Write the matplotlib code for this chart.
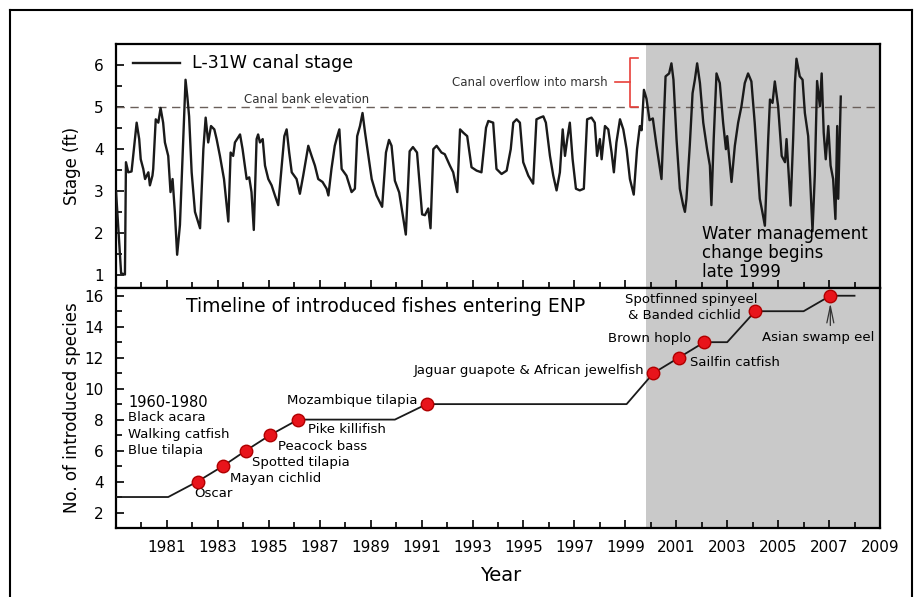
import matplotlib
matplotlib.use("Agg")
import matplotlib.pyplot as plt
from matplotlib.lines import Line2D

# ---- data ----
stage_years = [1979.0, 1979.2, 1979.35, 1979.39, 1979.48, 1979.61, 1979.81, 1979.91, 1979.97,
               1980.07, 1980.14, 1980.27, 1980.33, 1980.43, 1980.46, 1980.56, 1980.66, 1980.75,
               1980.85, 1980.92, 1981.05, 1981.14, 1981.22, 1981.31, 1981.40, 1981.51, 1981.64,
               1981.73, 1981.80, 1981.87, 1981.97, 1982.10, 1982.30, 1982.43, 1982.52, 1982.62,
               1982.73, 1982.86, 1982.95, 1983.08, 1983.24, 1983.41, 1983.50, 1983.60, 1983.67,
               1983.87, 1983.97, 1984.13, 1984.23, 1984.32, 1984.41, 1984.52, 1984.58, 1984.65,
               1984.76, 1984.85, 1984.98, 1985.11, 1985.24, 1985.37, 1985.51, 1985.61, 1985.70,
               1985.80, 1985.90, 1986.09, 1986.22, 1986.35, 1986.55, 1986.68, 1986.81, 1986.94,
               1987.11, 1987.27, 1987.34, 1987.46, 1987.59, 1987.69, 1987.77, 1987.86, 1988.05,
               1988.25, 1988.38, 1988.47, 1988.58, 1988.68, 1988.78, 1988.91, 1989.04, 1989.23,
               1989.45, 1989.52, 1989.60, 1989.72, 1989.82, 1989.95, 1990.12, 1990.38, 1990.53,
               1990.66, 1990.82, 1991.02, 1991.13, 1991.26, 1991.35, 1991.46, 1991.59, 1991.78,
               1991.91, 1992.11, 1992.24, 1992.40, 1992.51, 1992.64, 1992.79, 1992.96, 1993.16,
               1993.35, 1993.53, 1993.62, 1993.81, 1993.94, 1994.14, 1994.34, 1994.50, 1994.60,
               1994.73, 1994.86, 1994.99, 1995.19, 1995.38, 1995.51, 1995.65, 1995.78, 1995.88,
               1996.04, 1996.17, 1996.30, 1996.43, 1996.54, 1996.63, 1996.72, 1996.82, 1996.93,
               1997.06, 1997.21, 1997.37, 1997.50, 1997.67, 1997.80, 1997.89, 1998.00, 1998.07,
               1998.20, 1998.33, 1998.46, 1998.55, 1998.65, 1998.79, 1998.92, 1999.05, 1999.18,
               1999.33, 1999.46, 1999.57, 1999.64, 1999.73, 1999.83, 1999.95, 2000.08, 2000.22,
               2000.42, 2000.58, 2000.72, 2000.81, 2000.89, 2001.01, 2001.14, 2001.27, 2001.34,
               2001.40, 2001.53, 2001.64, 2001.73, 2001.82, 2001.93, 2002.06, 2002.21, 2002.32,
               2002.38, 2002.47, 2002.58, 2002.71, 2002.84, 2002.95, 2003.00, 2003.17, 2003.30,
               2003.43, 2003.56, 2003.69, 2003.82, 2003.95, 2004.08, 2004.28, 2004.38, 2004.48,
               2004.61, 2004.68, 2004.78, 2004.87, 2005.00, 2005.14, 2005.27, 2005.33, 2005.49,
               2005.59, 2005.66, 2005.72, 2005.85, 2005.96, 2006.05, 2006.18, 2006.35, 2006.44,
               2006.53, 2006.64, 2006.71, 2006.79, 2006.87, 2006.97, 2007.06, 2007.16, 2007.25,
               2007.32, 2007.36, 2007.46]
stage_ft = [3.0, 1.05, 1.02, 3.69, 3.45, 3.47, 4.63, 4.24, 3.76,
            3.53, 3.29, 3.45, 3.14, 3.37, 3.53, 4.71, 4.63, 4.98,
            4.63, 4.16, 3.84, 2.98, 3.29, 2.51, 1.49, 2.20, 4.24,
            5.65, 5.25, 4.78, 3.45, 2.51, 2.12, 4.0, 4.75, 4.16,
            4.55, 4.47, 4.24, 3.84, 3.29, 2.28, 3.92, 3.84, 4.16,
            4.35, 4.0, 3.29, 3.33, 2.98, 2.08, 4.24, 4.35, 4.16,
            4.24, 3.61, 3.29, 3.14, 2.90, 2.67, 3.61, 4.31, 4.47,
            3.92, 3.45, 3.29, 2.94, 3.37, 4.08, 3.84, 3.61, 3.29,
            3.22, 3.06, 2.90, 3.53, 4.08, 4.31, 4.47, 3.53, 3.37,
            2.98, 3.06, 4.31, 4.55, 4.86, 4.39, 3.84, 3.29, 2.90,
            2.63, 3.22, 3.92, 4.22, 4.08, 3.25, 2.97, 1.97, 3.95,
            4.05, 3.92, 2.45, 2.43, 2.59, 2.12, 4.0, 4.08, 3.92,
            3.88, 3.61, 3.45, 2.98, 4.47, 4.39, 4.31, 3.57, 3.49,
            3.45, 4.51, 4.67, 4.63, 3.53, 3.41, 3.49, 4.0, 4.63,
            4.71, 4.63, 3.69, 3.37, 3.18, 4.71, 4.75, 4.78, 4.63,
            3.84, 3.37, 3.02, 3.45, 4.47, 3.84, 4.24, 4.63, 3.76,
            3.06, 3.02, 3.06, 4.71, 4.75, 4.63, 3.84, 4.24, 3.76,
            4.55, 4.47, 3.92, 3.45, 4.16, 4.71, 4.47, 4.0, 3.29,
            2.92, 4.0, 4.55, 4.45, 5.41, 5.2, 4.69, 4.73, 4.1,
            3.29, 5.73, 5.80, 6.04, 5.65, 4.24, 3.06, 2.67, 2.51,
            2.82, 4.08, 5.33, 5.65, 6.04, 5.57, 4.63, 4.0, 3.61,
            2.67, 4.24, 5.80, 5.57, 4.63, 4.0, 4.31, 3.22, 4.08,
            4.63, 5.02, 5.57, 5.80, 5.61, 4.63, 2.82, 2.51, 2.18,
            4.24, 5.18, 5.10, 5.61, 5.02, 3.84, 3.69, 4.24, 2.66,
            4.24, 5.57, 6.15, 5.73, 5.65, 4.86, 4.31, 2.05, 3.37,
            5.62, 5.02, 5.80, 4.39, 3.76, 4.55, 3.61, 3.29, 2.34,
            4.55, 2.82, 5.25]

timeline_years = [1979, 1981.05, 1982.2, 1983.2, 1984.1, 1985.05, 1986.15, 1989.95, 1991.2,
                  1999.05, 2000.1, 2001.1, 2002.1, 2003.0, 2004.1, 2006.0, 2007.05, 2008.0]
timeline_counts = [3, 3, 4, 5, 6, 7, 8, 8, 9, 9, 11, 12, 13, 13, 15, 15, 16, 16]

fish_years = [1982.2, 1983.2, 1984.1, 1985.05, 1986.15, 1991.2, 2000.1, 2001.1, 2002.1, 2004.1, 2007.05]
fish_counts = [4, 5, 6, 7, 8, 9, 11, 12, 13, 15, 16]

early_species = ["1960-1980", "Black acara", "Walking catfish", "Blue tilapia"]

bank_elevation = 5.0
change_year = 1999.8

# ---- figure ----
fig = plt.figure(figsize=(9.23, 5.97), dpi=100)
ax1 = fig.add_axes([0.1257, 0.5176, 0.8277, 0.4087])
ax2 = fig.add_axes([0.1257, 0.1156, 0.8277, 0.4020])

shade = '#c9c9c9'
for ax in (ax1, ax2):
    ax.axvspan(change_year, 2009, color=shade, lw=0, zorder=0)
    ax.set_xlim(1979, 2009)
    ax.set_xticks(range(1981, 2010, 2))
    ax.set_xticks(range(1980, 2009, 2), minor=True)
    ax.tick_params(which='both', direction='in', top=False, right=False, labelsize=11, pad=9)
    ax.tick_params(which='major', length=6, width=1.2)
    ax.tick_params(which='minor', length=4, width=1.2)
    for s in ax.spines.values():
        s.set_linewidth(1.6)

# top panel: canal stage
ax1.plot(stage_years, stage_ft, color='#1a1a1a', lw=1.7, zorder=3)
ax1.axhline(bank_elevation, color='#6a5f5a', lw=1.0, ls=(0, (6, 4)), zorder=2)
ax1.set_ylim(0.7, 6.5)
ax1.set_yticks(range(1, 7))
ax1.set_yticks([1.5, 2.5, 3.5, 4.5, 5.5, 6.5], minor=True)
ax1.tick_params(axis='x', labelbottom=False)
ax1.set_ylabel('Stage (ft)', fontsize=12)
ax1.yaxis.set_label_coords(-0.046, 0.5)

ax1.plot([1979.67, 1981.51], [6.04, 6.04], color='#1a1a1a', lw=1.7)
ax1.text(1981.98, 6.04, 'L-31W canal stage', fontsize=12.5, va='center', ha='left')
ax1.text(1986.5, 5.18, 'Canal bank elevation', fontsize=8.5, va='center', ha='center', color='#333333')

# red bracket for overflow
red = '#e8403a'
ax1.plot([1999.49, 1999.18, 1999.18, 1999.49], [6.16, 6.16, 5.0, 5.0], color=red, lw=1.2)
ax1.plot([1998.59, 1999.18], [5.59, 5.59], color=red, lw=1.2)
ax1.text(1998.3, 5.59, 'Canal overflow into marsh', fontsize=8.5, va='center', ha='right', color='#333333')

ax1.text(2002.0, 1.53, 'Water management\nchange begins\nlate 1999', fontsize=12,
         va='center', ha='left', linespacing=1.05)

# bottom panel: fish timeline
ax2.plot(timeline_years, timeline_counts, color='#1a1a1a', lw=1.3, zorder=3)
ax2.plot(fish_years, fish_counts, 'o', color='#e8141b', mec='#b00000', ms=9, zorder=4)
ax2.set_ylim(1, 16.5)
ax2.set_yticks(range(2, 17, 2))
ax2.set_yticks(range(3, 17, 2), minor=True)
ax2.set_ylabel('No. of introduced species', fontsize=12)
ax2.yaxis.set_label_coords(-0.046, 0.5)
ax2.set_xlabel('Year', fontsize=14)
ax2.xaxis.set_label_coords(0.504, -0.16)

ax2.text(1989.59, 15.31, 'Timeline of introduced fishes entering ENP', fontsize=13.5,
         ha='center', va='center')

ax2.text(1979.48, 9.12, early_species[0], fontsize=10.5, ha='left', va='center')
for lbl, yy in zip(early_species[1:], [8.11, 7.03, 6.0]):
    ax2.text(1979.48, yy, lbl, fontsize=9.5, ha='left', va='center')

fs = 9.5
ax2.text(1982.06, 3.21, 'Oscar', fontsize=fs, ha='left', va='center')
ax2.text(1983.48, 4.17, 'Mayan cichlid', fontsize=fs, ha='left', va='center')
ax2.text(1984.33, 5.2, 'Spotted tilapia', fontsize=fs, ha='left', va='center')
ax2.text(1985.37, 6.28, 'Peacock bass', fontsize=fs, ha='left', va='center')
ax2.text(1986.55, 7.35, 'Pike killifish', fontsize=fs, ha='left', va='center')
ax2.text(1985.73, 9.25, 'Mozambique tilapia', fontsize=fs, ha='left', va='center')
ax2.text(1990.67, 11.18, 'Jaguar guapote & African jewelfish', fontsize=fs, ha='left', va='center')
ax2.text(1998.31, 13.23, 'Brown hoplo', fontsize=fs, ha='left', va='center')
ax2.text(2001.54, 11.66, 'Sailfin catfish', fontsize=fs, ha='left', va='center')
ax2.text(1998.98, 15.74, 'Spotfinned spinyeel', fontsize=fs, ha='left', va='center')
ax2.text(1999.1, 14.73, '& Banded cichlid', fontsize=fs, ha='left', va='center')
ax2.text(2004.35, 13.31, 'Asian swamp eel', fontsize=fs, ha='left', va='center')
ax2.annotate('', xy=(2007.05, 15.7), xytext=(2007.05, 13.9),
             arrowprops=dict(arrowstyle='->,head_length=1.2,head_width=0.25', color='#333333', lw=0.9))

# outer frame
for xs, ys in (([0.0108, 0.0108], [0.0, 0.983]), ([0.0108, 0.988], [0.983, 0.983]),
               ([0.988, 0.988], [0.983, 0.0])):
    fig.add_artist(Line2D(xs, ys, color='black', lw=1.5, transform=fig.transFigure))

fig.savefig('out.png', dpi=100)
